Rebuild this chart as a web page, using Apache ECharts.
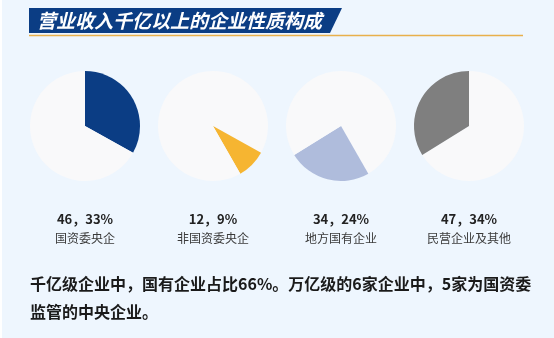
<!DOCTYPE html>
<html>
<head>
<meta charset="utf-8">
<script src="https://cdn.jsdelivr.net/npm/echarts@6/dist/echarts.min.js"></script>
<style>
  html, body { margin: 0; padding: 0; background: #EEF6FE; }
  #chart { width: 554px; height: 338px; }
</style>
</head>
<body>
<div id="chart"></div>
<script>
// Ownership types of companies with revenue above 100 billion yuan
var categories = ['国资委央企', '非国资委央企', '地方国有企业', '民营企业及其他'];
var counts = [46, 12, 34, 47];
var percentLabels = ['33%', '9%', '24%', '34%'];
var sliceColors = ['#0B3D84', '#F6B531', '#AFBCDC', '#7F7F7F'];
var titleText = '营业收入千亿以上的企业性质构成';
var noteLines = [
  '千亿级企业中，国有企业占比66%。万亿级的6家企业中，5家为国资委',
  '监管的中央企业。'
];

var FONT = '"Noto Sans CJK SC", "Noto Sans", sans-serif';
var restColor = '#F9F9FA';
var centersX = [85, 213, 341, 469];
var centerY = 126;

var total = counts.reduce(function (a, b) { return a + b; }, 0);

// One pie per group: the slice sits after the groups before it, the rest stays pale
var series = [];
var before = 0;
counts.forEach(function (v, i) {
  var after = total - before - v;
  series.push({
    type: 'pie',
    center: [centersX[i], centerY],
    radius: [0, 55],
    startAngle: 90,
    clockwise: true,
    silent: true,
    animation: false,
    label: { show: false },
    labelLine: { show: false },
    emphasis: { disabled: true },
    data: [
      { value: before, itemStyle: { color: restColor } },
      { value: v, itemStyle: { color: sliceColors[i] } },
      { value: after, itemStyle: { color: restColor } }
    ]
  });
  before += v;
});

var graphics = [
  { type: 'rect', shape: { x: 0, y: 0, width: 2, height: 338 }, style: { fill: '#FFFFFF' }, silent: true },
  {
    type: 'polygon',
    shape: { points: [[29, 8], [342, 8], [330, 33], [29, 33]] },
    style: { fill: '#0B3D84' },
    silent: true
  },
  {
    type: 'line',
    shape: { x1: 29, y1: 35.5, x2: 523, y2: 35.5 },
    style: { stroke: '#E8B04C', lineWidth: 1.5 },
    silent: true
  },
  {
    type: 'text',
    x: 37, y: 20.5,
    style: {
      text: titleText,
      fill: '#FFFFFF',
      font: 'italic bold 19px ' + FONT,
      textVerticalAlign: 'middle',
      textBaseline: 'middle'
    },
    silent: true
  }
];

categories.forEach(function (name, i) {
  graphics.push({
    type: 'text',
    x: centersX[i], y: 219.5,
    style: {
      text: counts[i] + '，' + percentLabels[i],
      fill: '#222222',
      font: 'bold 13px ' + FONT,
      textAlign: 'center',
      textVerticalAlign: 'middle',
      textBaseline: 'middle'
    },
    silent: true
  });
  graphics.push({
    type: 'text',
    x: centersX[i], y: 238,
    style: {
      text: name,
      fill: '#3A3A3A',
      font: '12px ' + FONT,
      textAlign: 'center',
      textVerticalAlign: 'middle',
      textBaseline: 'middle'
    },
    silent: true
  });
});

noteLines.forEach(function (line, i) {
  graphics.push({
    type: 'text',
    x: 30, y: 284 + i * 27.5,
    style: {
      text: line,
      fill: '#1A1A1A',
      font: 'bold 16px ' + FONT,
      textVerticalAlign: 'middle',
      textBaseline: 'middle'
    },
    silent: true
  });
});

var chart = echarts.init(document.getElementById('chart'), null, { renderer: 'canvas' });
chart.setOption({
  backgroundColor: '#EEF6FE',
  animation: false,
  series: series,
  graphic: graphics
});
</script>
</body>
</html>
